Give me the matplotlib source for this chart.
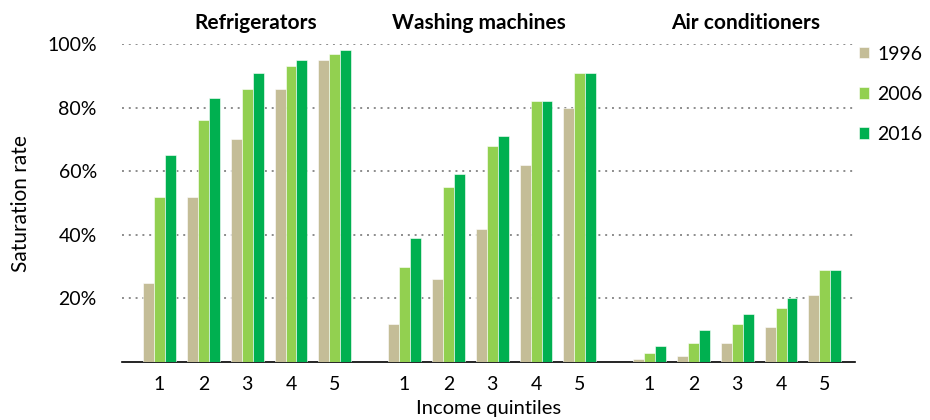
import matplotlib.pyplot as plt
import numpy as np

plt.rcParams['font.family'] = ['Lato', 'DejaVu Sans']

groups = ['Refrigerators', 'Washing machines', 'Air conditioners']
quintiles = ['1', '2', '3', '4', '5']
years = ['1996', '2006', '2016']
colors = ['#C4BD97', '#92D050', '#00B050']

# saturation rate (%) per group, per quintile
fridge_1996 = [25, 52, 70, 86, 95]
fridge_2006 = [52, 76, 86, 93, 97]
fridge_2016 = [65, 83, 91, 95, 98]
wash_1996 = [12, 26, 42, 62, 80]
wash_2006 = [30, 55, 68, 82, 91]
wash_2016 = [39, 59, 71, 82, 91]
ac_1996 = [1, 2, 6, 11, 21]
ac_2006 = [3, 6, 12, 17, 29]
ac_2016 = [5, 10, 15, 20, 29]

data = [
    [fridge_1996, fridge_2006, fridge_2016],
    [wash_1996, wash_2006, wash_2016],
    [ac_1996, ac_2006, ac_2016],
]

fig = plt.figure(figsize=(9.3, 4.2), dpi=100)
ax = fig.add_axes([0.131, 0.138, 0.788, 0.757])

stride = 5.59
w = 0.25
title_shift = [0.2, -0.3, 0.2]
xt, xl = [], []
for g, series in enumerate(data):
    base = np.arange(5) + g * stride
    for k, vals in enumerate(series):
        ax.bar(base + (k - 1) * w, np.array(vals) / 100, width=w, color=colors[k],
               edgecolor='white', linewidth=0.4, zorder=3,
               label=years[k] if g == 0 else None)
    xt.extend(base)
    xl.extend(quintiles)
    ax.text(base.mean() + title_shift[g], 1.035, groups[g], ha='center', va='bottom',
            fontsize=15, fontweight='bold', transform=ax.get_xaxis_transform())

ax.set_xlim(-0.86, 4 + 2 * stride + 0.68)
ax.set_ylim(0, 1.0)
ax.set_yticks([0.2, 0.4, 0.6, 0.8, 1.0])
ax.set_yticklabels(['20%', '40%', '60%', '80%', '100%'], fontsize=14)
ax.set_xticks(xt)
ax.set_xticklabels(xl, fontsize=14)
ax.tick_params(length=0, pad=10)
ax.tick_params(axis='y', pad=18)
ax.yaxis.grid(True, linestyle=(0, (1, 2.5)), color='#8c8c8c', linewidth=1.4, zorder=0)
for s in ['top', 'right', 'left']:
    ax.spines[s].set_visible(False)
ax.spines['bottom'].set_linewidth(1.2)
ax.set_ylabel('Saturation rate', fontsize=15, labelpad=12)
ax.set_xlabel('Income quintiles', fontsize=14.5, labelpad=5)

ax.legend(loc='upper left', bbox_to_anchor=(0.995, 1.02), frameon=False, fontsize=14,
          handlelength=0.55, handleheight=0.55, labelspacing=1.2, handletextpad=0.4,
          borderaxespad=0)

fig.savefig('out.png', dpi=100)
